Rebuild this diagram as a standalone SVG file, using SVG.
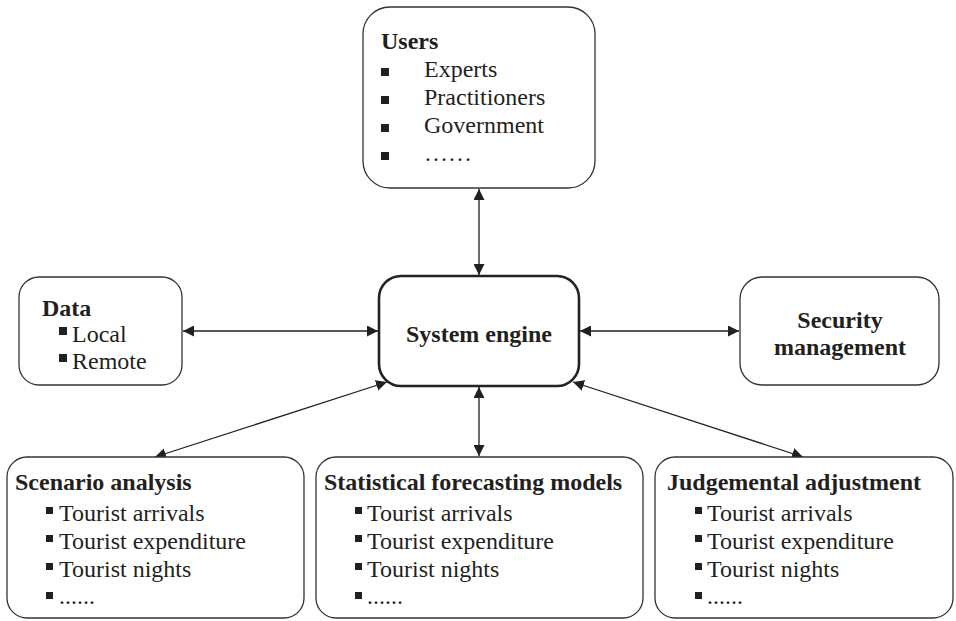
<svg xmlns="http://www.w3.org/2000/svg" width="956" height="621" viewBox="0 0 956 621">
<style>
.box{fill:#fff;stroke:#333;stroke-width:1.3}
.main{fill:#fff;stroke:#222;stroke-width:2.6}
text{font-family:"Liberation Serif","Times New Roman",serif;font-size:24px;fill:#231f20}
.b{font-weight:bold}
.bul{fill:#231f20}
.con{stroke:#231f20;stroke-width:1.3;fill:none;marker-start:url(#ah);marker-end:url(#ah)}
</style>
<defs>
<marker id="ah" markerUnits="userSpaceOnUse" markerWidth="11" markerHeight="11" refX="11" refY="5.5" orient="auto-start-reverse" viewBox="0 0 11 11">
<path d="M0,0 L11,5.5 L0,11 z" fill="#231f20"/>
</marker>
</defs>
<rect width="956" height="621" fill="#fff"/>
<g id="connectors">
<line class="con" x1="479" y1="189" x2="479" y2="275"/>
<line class="con" x1="183" y1="331" x2="378" y2="331"/>
<line class="con" x1="580" y1="331" x2="739" y2="331"/>
<line class="con" x1="479" y1="387" x2="479" y2="456"/>
<line class="con" x1="155" y1="457" x2="387" y2="382"/>
<line class="con" x1="803" y1="457" x2="573" y2="382"/>
</g>
<g id="users">
<rect class="box" x="363" y="7" width="232" height="181" rx="27"/>
<text class="b" x="381" y="49">Users</text>
<rect class="bul" x="381" y="68" width="8" height="8"/>
<rect class="bul" x="381" y="96" width="8" height="8"/>
<rect class="bul" x="381" y="124" width="8" height="8"/>
<rect class="bul" x="381" y="152" width="8" height="8"/>
<text x="424" y="77">Experts</text>
<text x="424" y="105">Practitioners</text>
<text x="424" y="133">Government</text>
<text x="424" y="161">……</text>
</g>
<g id="data">
<rect class="box" x="19" y="277" width="163" height="108" rx="20"/>
<text class="b" x="42" y="316">Data</text>
<rect class="bul" x="59" y="327" width="8" height="8"/>
<rect class="bul" x="59" y="354" width="8" height="8"/>
<text x="72" y="342">Local</text>
<text x="72" y="369">Remote</text>
</g>
<g id="system">
<rect class="main" x="379" y="276" width="200" height="110" rx="22"/>
<text class="b" x="479" y="342" text-anchor="middle">System engine</text>
</g>
<g id="security">
<rect class="box" x="740" y="277" width="199" height="108" rx="22"/>
<text class="b" x="840" y="328" text-anchor="middle">Security</text>
<text class="b" x="840" y="355" text-anchor="middle">management</text>
</g>
<g id="scenario">
<rect class="box" x="7" y="457" width="297" height="161" rx="20"/>
<text class="b" x="15" y="490">Scenario analysis</text>
<rect class="bul" x="46" y="507" width="7" height="7"/>
<rect class="bul" x="46" y="535" width="7" height="7"/>
<rect class="bul" x="46" y="563" width="7" height="7"/>
<rect class="bul" x="46" y="592" width="7" height="7"/>
<text x="59" y="521">Tourist arrivals</text>
<text x="59" y="549">Tourist expenditure</text>
<text x="59" y="577">Tourist nights</text>
<text x="59" y="604">......</text>
</g>
<g id="statistical">
<rect class="box" x="316" y="457" width="327" height="161" rx="20"/>
<text class="b" x="324" y="490">Statistical forecasting models</text>
<rect class="bul" x="355" y="507" width="7" height="7"/>
<rect class="bul" x="355" y="535" width="7" height="7"/>
<rect class="bul" x="355" y="563" width="7" height="7"/>
<rect class="bul" x="355" y="592" width="7" height="7"/>
<text x="367" y="521">Tourist arrivals</text>
<text x="367" y="549">Tourist expenditure</text>
<text x="367" y="577">Tourist nights</text>
<text x="367" y="604">......</text>
</g>
<g id="judgemental">
<rect class="box" x="655" y="457" width="298" height="161" rx="20"/>
<text class="b" x="667" y="490">Judgemental adjustment</text>
<rect class="bul" x="695" y="507" width="7" height="7"/>
<rect class="bul" x="695" y="535" width="7" height="7"/>
<rect class="bul" x="695" y="563" width="7" height="7"/>
<rect class="bul" x="695" y="592" width="7" height="7"/>
<text x="707" y="521">Tourist arrivals</text>
<text x="707" y="549">Tourist expenditure</text>
<text x="707" y="577">Tourist nights</text>
<text x="707" y="604">......</text>
</g>
</svg>
